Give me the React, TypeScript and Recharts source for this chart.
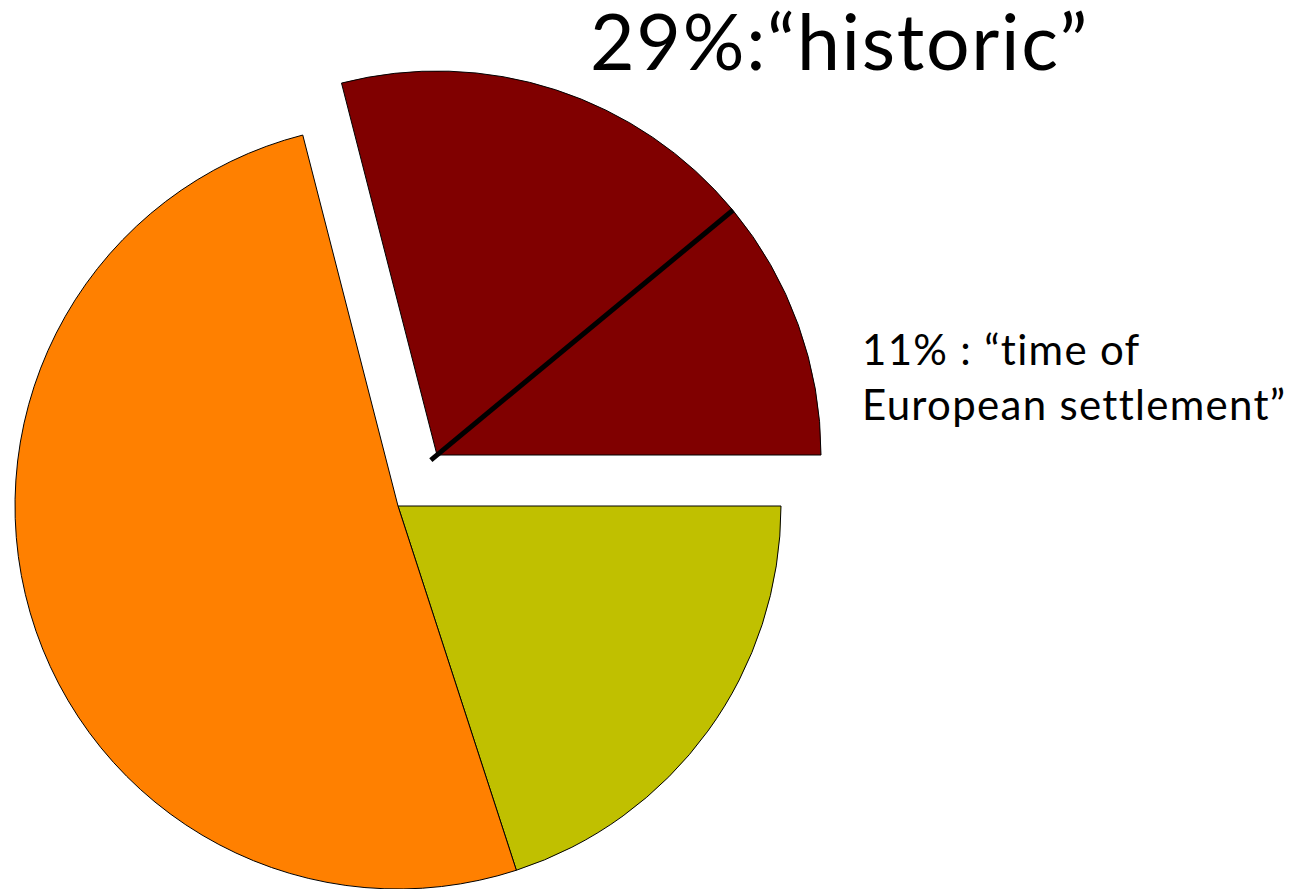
import { PieChart, Pie, Cell } from "recharts";

// exploded group ("historic" = 29%), split by the black divider
const historicNames = ["time of European settlement", "historic"];
const historicValues = [11, 18];
const historicColors = ["#800000", "#800000"];

// rest of the pie
const restNames = ["group C", "group D"];
const restValues = [20, 51];
const restColors = ["#C0C000", "#FF8000"];

const TOTAL = [...historicValues, ...restValues].reduce((a, b) => a + b, 0);

const historicData = historicNames.map((name, i) => ({ name, value: historicValues[i] }));
const restData = restNames.map((name, i) => ({ name, value: restValues[i] }));

const W = 1310;
const H = 889;

const HIST_CX = 437;
const HIST_CY = 455;
const HIST_R = 384;
const MAIN_CX = 398;
const MAIN_CY = 506;
const MAIN_R = 383;

const histSpan = (historicValues.reduce((a, b) => a + b, 0) / TOTAL) * 360;
const restSpan = (restValues.reduce((a, b) => a + b, 0) / TOTAL) * 360;

// divider between the two dark red slices
const divAngle = ((historicValues[0] / TOTAL) * 360 * Math.PI) / 180;
const divX1 = HIST_CX - 8 * Math.cos(divAngle);
const divY1 = HIST_CY + 8 * Math.sin(divAngle);
const divX2 = HIST_CX + HIST_R * Math.cos(divAngle);
const divY2 = HIST_CY - HIST_R * Math.sin(divAngle);

const FONT = "Lato, 'Open Sans', sans-serif";

export default function App() {
  return (
    <div style={{ position: "absolute", left: 0, top: 0, width: W, height: H, background: "#fff" }}>
      <PieChart width={W} height={H} margin={{ top: 0, right: 0, bottom: 0, left: 0 }}>
        <Pie
          data={restData}
          dataKey="value"
          cx={MAIN_CX}
          cy={MAIN_CY}
          outerRadius={MAIN_R}
          startAngle={0}
          endAngle={-restSpan}
          stroke="#000"
          strokeWidth={1}
          isAnimationActive={false}
        >
          {restData.map((_, i) => (
            <Cell key={i} fill={restColors[i]} />
          ))}
        </Pie>
        <Pie
          data={historicData}
          dataKey="value"
          cx={HIST_CX}
          cy={HIST_CY}
          outerRadius={HIST_R}
          startAngle={0}
          endAngle={histSpan}
          stroke="#000"
          strokeWidth={1}
          isAnimationActive={false}
        >
          {historicData.map((_, i) => (
            <Cell key={i} fill={historicColors[i]} />
          ))}
        </Pie>
      </PieChart>
      <svg
        width={W}
        height={H}
        style={{ position: "absolute", left: 0, top: 0, pointerEvents: "none" }}
      >
        <line x1={divX1} y1={divY1} x2={divX2} y2={divY2} stroke="#000" strokeWidth={5} />
        <text x={590} y={70} fontFamily={FONT} fontSize={77} letterSpacing={1.7} fill="#000">
          29%:“historic”
        </text>
        <text x={862} y={365} fontFamily={FONT} fontSize={42} letterSpacing={1.3} fill="#000">
          11% : “time of
        </text>
        <text x={862} y={420} fontFamily={FONT} fontSize={42} letterSpacing={1.3} fill="#000">
          European settlement”
        </text>
      </svg>
    </div>
  );
}
